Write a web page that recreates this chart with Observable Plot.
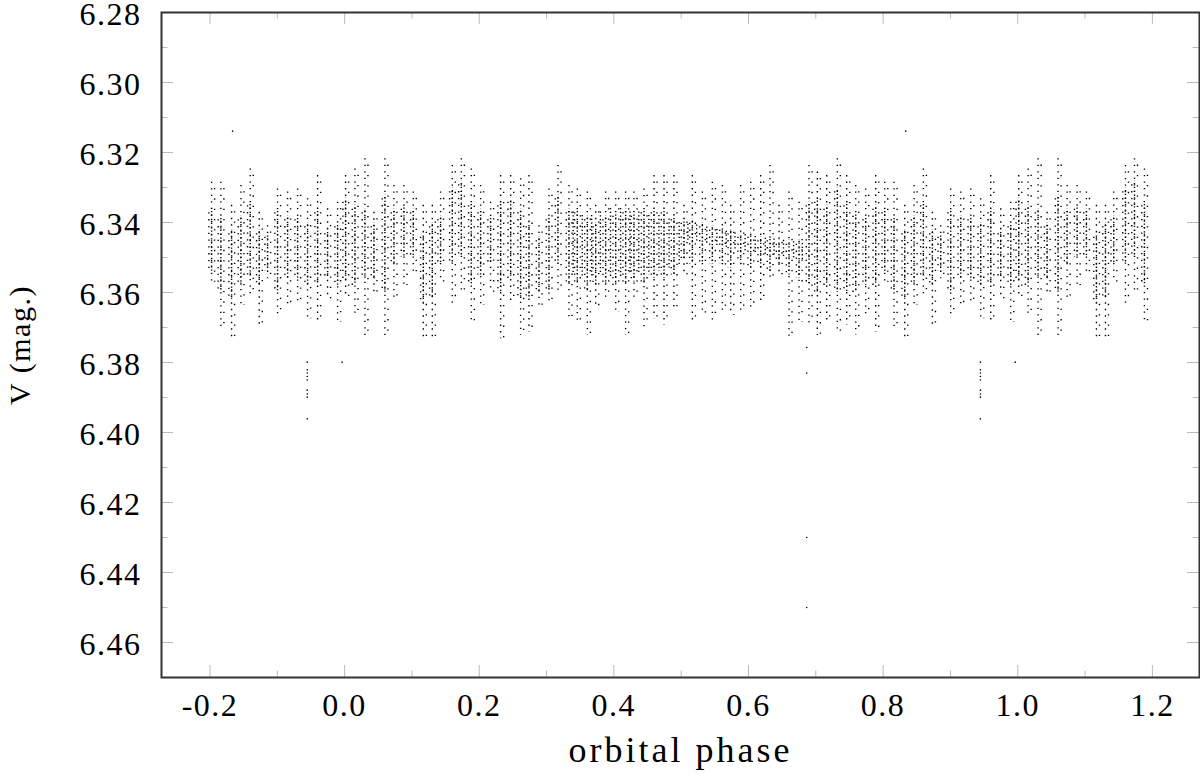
<!DOCTYPE html>
<html>
<head>
<meta charset="utf-8">
<script src="https://cdn.jsdelivr.net/npm/d3@7"></script>
<script src="https://cdn.jsdelivr.net/npm/@observablehq/plot@0.6"></script>
<style>
  html, body { margin: 0; padding: 0; background: #fff; }
  #chart svg { display: block; }
</style>
</head>
<body>
<div id="chart"></div>
<script>
// Nightly observing runs, folded on the orbital period (phase 0..1).
// Each run: phase, brightest / faintest V, and the dense central part.
const runPhase  = [0.0015,0.0154,0.0302,0.0436,0.0599,0.0733,0.0882,0.1020,0.1169,0.1303,0.1426,0.1600,0.1734,0.1882,0.2021,0.2169,0.2318,0.2467,0.2615,0.2739,0.2888,0.3036,0.3170,0.3333,0.3457,0.3606,0.3730,0.3878,0.4027,0.4175,0.4299,0.4448,0.4596,0.4745,0.4893,0.5042,0.5166,0.5315,0.5463,0.5612,0.5736,0.5884,0.6033,0.6181,0.6320,0.6454,0.6602,0.6751,0.6899,0.7023,0.7162,0.7320,0.7459,0.7593,0.7741,0.7890,0.8024,0.8162,0.8321,0.8460,0.8598,0.8732,0.8856,0.9004,0.9153,0.9302,0.9450,0.9599,0.9747,0.9896];
const runTop    = [6.3266,6.3247,6.3218,6.3371,6.3218,6.3294,6.3294,6.3313,6.3351,6.3351,6.3313,6.3237,6.3218,6.3247,6.3294,6.3342,6.3266,6.3266,6.3275,6.3266,6.3409,6.3304,6.3237,6.3294,6.3304,6.3313,6.3351,6.3313,6.3313,6.3313,6.3313,6.3304,6.3266,6.3266,6.3266,6.3351,6.3266,6.3313,6.3285,6.3294,6.3351,6.3294,6.3285,6.3266,6.3237,6.3351,6.3313,6.3342,6.3237,6.3256,6.3266,6.3218,6.3266,6.3294,6.3304,6.3266,6.3285,6.3285,6.3351,6.3294,6.3247,6.3371,6.3409,6.3304,6.3313,6.3304,6.3332,6.3266,6.3361,6.3342];
const runBottom = [6.3618,6.3670,6.3723,6.3599,6.3723,6.3618,6.3580,6.3542,6.3732,6.3732,6.3571,6.3637,6.3599,6.3685,6.3637,6.3599,6.3732,6.3637,6.3723,6.3713,6.3637,6.3637,6.3599,6.3675,6.3694,6.3723,6.3647,6.3618,6.3656,6.3723,6.3618,6.3704,6.3675,6.3694,6.3656,6.3551,6.3685,6.3666,6.3685,6.3656,6.3666,6.3656,6.3647,6.3628,6.3561,6.3551,6.3732,6.3685,6.3694,6.3723,6.3685,6.3713,6.3694,6.3723,6.3666,6.3713,6.3571,6.3704,6.3732,6.3637,6.3618,6.3694,6.3561,6.3675,6.3647,6.3637,6.3675,6.3685,6.3618,6.3685];
const coreTop   = [6.333,6.335,6.336,6.340,6.332,6.336,6.335,6.336,6.343,6.340,6.338,6.330,6.328,6.334,6.336,6.338,6.334,6.333,6.336,6.340,6.344,6.338,6.332,6.336,6.336,6.338,6.340,6.338,6.337,6.336,6.337,6.336,6.336,6.336,6.338,6.339,6.339,6.340,6.341,6.341,6.342,6.343,6.343,6.344,6.344,6.345,6.345,6.345,6.334,6.333,6.335,6.330,6.334,6.337,6.338,6.335,6.336,6.338,6.342,6.338,6.334,6.342,6.343,6.336,6.338,6.338,6.340,6.336,6.342,6.340];
const coreBottom= [6.357,6.358,6.356,6.356,6.360,6.352,6.350,6.350,6.363,6.362,6.352,6.352,6.350,6.358,6.355,6.352,6.360,6.356,6.362,6.362,6.360,6.360,6.352,6.358,6.358,6.360,6.358,6.358,6.358,6.358,6.357,6.358,6.356,6.356,6.355,6.351,6.352,6.352,6.352,6.352,6.353,6.352,6.353,6.353,6.354,6.352,6.355,6.356,6.358,6.360,6.358,6.360,6.360,6.360,6.358,6.358,6.354,6.360,6.362,6.358,6.356,6.358,6.354,6.360,6.356,6.356,6.358,6.358,6.356,6.358];

// Extra short, crowded runs (dense cloud near phase 0.33-0.50 and the band near 0.50-0.68)
const densePhase  = [0.3395,0.3530,0.3670,0.3800,0.3950,0.4100,0.4240,0.4370,0.4520,0.4670,0.4820,0.4970,0.5100,0.5230,0.5380,0.5530,0.5670,0.5800,0.5950,0.6100,0.6250,0.6380,0.6520,0.6670,0.6800];
const denseTop    = [6.337,6.338,6.338,6.337,6.336,6.336,6.337,6.337,6.338,6.338,6.339,6.340,6.3405,6.3407,6.3413,6.3420,6.3425,6.3430,6.3435,6.3440,6.3445,6.3447,6.3451,6.3455,6.3460];
const denseBottom = [6.355,6.356,6.356,6.355,6.356,6.356,6.355,6.355,6.355,6.354,6.353,6.352,6.3455,6.3457,6.3463,6.3470,6.3475,6.3480,6.3485,6.3490,6.3495,6.3497,6.3501,6.3505,6.3510];

// Isolated points outside the runs
const outPhase = [0.9445,0.9445,0.9445,0.9445,0.9445,0.9445,0.9445,0.9445,0.9445,0.9963,0.6865,0.6865,0.6865,0.6865,0.8336];
const outMag   = [6.3799,6.3821,6.3830,6.3840,6.3850,6.3879,6.3890,6.3899,6.3961,6.3799,6.3757,6.3830,6.4300,6.4500,6.3139];

const xMajor = [-0.2,0.0,0.2,0.4,0.6,0.8,1.0,1.2];
const xMinor = [-0.1,0.1,0.3,0.5,0.7,0.9,1.1];
const yMajor = [6.28,6.30,6.32,6.34,6.36,6.38,6.40,6.42,6.44,6.46];
const yMinor = [6.29,6.31,6.33,6.35,6.37,6.39,6.41,6.43,6.45];

// Extend the folded phase range to -0.2 .. 1.2 (phase +/- 1 copies)
function extend(rows) {
  const out = [];
  for (const r of rows) {
    out.push(r);
    if (r.phase >= 0.8) out.push({...r, phase: r.phase - 1});
    if (r.phase < 0.2) out.push({...r, phase: r.phase + 1});
  }
  return out;
}
const runs = extend(runPhase.map((p, i) => ({phase: p, top: runTop[i], bottom: runBottom[i], ct: coreTop[i], cb: coreBottom[i]})));
const dense = extend(densePhase.map((p, i) => ({phase: p, top: denseTop[i], bottom: denseBottom[i]})));
const outliers = extend(outPhase.map((p, i) => ({phase: p, mag: outMag[i]})));

const font = "'Liberation Serif', 'Times New Roman', serif";
const W = 1200, H = 779;
const mL = 161, mR = 1, mT = 12, mB = 102;
const fw = W - mL - mR, fh = H - mT - mB;
const dot = {stroke: "#000", strokeWidth: 1.4};

const chart = Plot.plot({
  width: W, height: H,
  marginLeft: mL, marginRight: mR, marginTop: mT, marginBottom: mB,
  style: {fontFamily: font, background: "#fff", color: "#000"},
  x: {domain: [-0.272, 1.270]},
  y: {domain: [6.28, 6.47], reverse: true},
  marks: [
    // runs: sparse full range + denser core, drawn as dotted strokes
    Plot.ruleX(runs, {x: "phase", y1: "top", y2: "bottom", ...dot, strokeDasharray: "1.3 5.2"}),
    Plot.ruleX(runs, {x: d => d.phase + 0.0045, y1: "top", y2: "bottom", ...dot, strokeDasharray: "1.3 9", strokeDashoffset: 4}),
    Plot.ruleX(runs, {x: "phase", y1: "ct", y2: "cb", ...dot, strokeDasharray: "1.3 2.6", strokeDashoffset: 1}),
    Plot.ruleX(runs, {x: d => d.phase - 0.004, y1: "ct", y2: "cb", ...dot, strokeDasharray: "1.3 5.5", strokeDashoffset: 2.5}),
    Plot.ruleX(dense, {x: "phase", y1: "top", y2: "bottom", ...dot, strokeDasharray: "1.3 2.4"}),
    Plot.dot(outliers, {x: "phase", y: "mag", r: 0.8, fill: "#000", stroke: null}),
    // inward ticks on all four sides
    Plot.tickX(xMajor, {x: d => d, insetTop: fh - 12, stroke: "#bbb"}),
    Plot.tickX(xMajor, {x: d => d, insetBottom: fh - 12, stroke: "#bbb"}),
    Plot.tickX(xMinor, {x: d => d, insetTop: fh - 6.5, stroke: "#bbb"}),
    Plot.tickX(xMinor, {x: d => d, insetBottom: fh - 6.5, stroke: "#bbb"}),
    Plot.tickY(yMajor, {y: d => d, insetRight: fw - 12, stroke: "#bbb"}),
    Plot.tickY(yMajor, {y: d => d, insetLeft: fw - 12, stroke: "#bbb"}),
    Plot.tickY(yMinor, {y: d => d, insetRight: fw - 6.5, stroke: "#bbb"}),
    Plot.tickY(yMinor, {y: d => d, insetLeft: fw - 6.5, stroke: "#bbb"}),
    Plot.frame({stroke: "#333", strokeWidth: 2}),
    Plot.axisX(xMajor, {tickSize: 0, tickPadding: 16, fontSize: 32, label: null, tickFormat: d => d.toFixed(1)}),
    Plot.axisY(yMajor, {tickSize: 0, tickPadding: 20, fontSize: 32, label: null, dy: 2, tickFormat: d => d.toFixed(2)}),
    Plot.text(["orbital phase"], {frameAnchor: "bottom", dy: 84, fontSize: 36, fill: "#000", className: "xlab"}),
    Plot.text(["V (mag.)"], {frameAnchor: "left", textAnchor: "middle", dx: -141, rotate: -90, fontSize: 30, fill: "#000"})
  ]
});
chart.querySelectorAll("text").forEach(t => t.setAttribute("letter-spacing", "1.5"));
chart.querySelectorAll(".xlab text").forEach(t => t.setAttribute("letter-spacing", "3"));
document.getElementById("chart").appendChild(chart);
</script>
</body>
</html>
